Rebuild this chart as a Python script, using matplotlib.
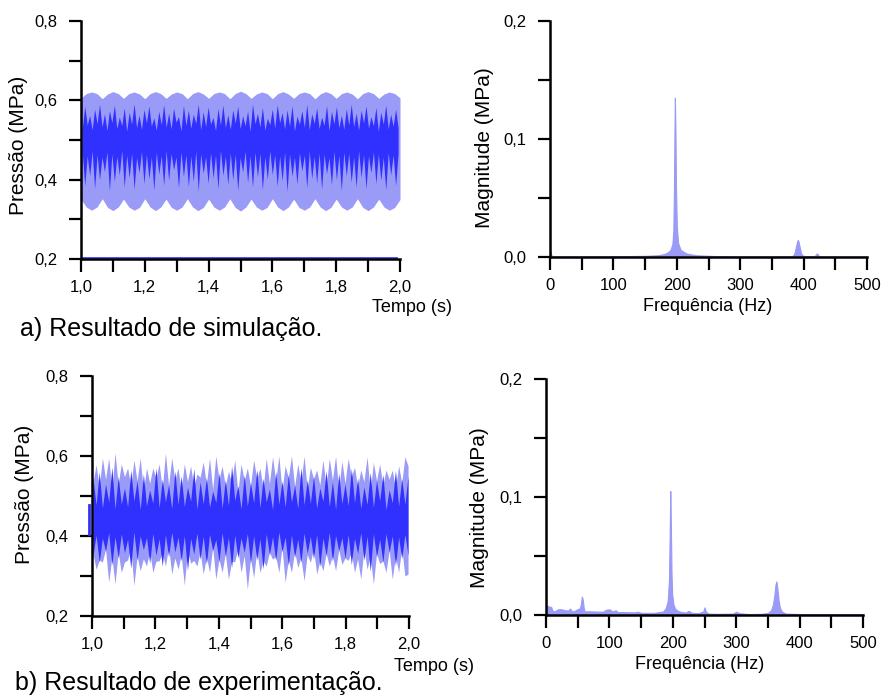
import numpy as np
import matplotlib.pyplot as plt

plt.rcParams['font.family'] = ['Liberation Sans', 'DejaVu Sans']

LIGHT = '#9a9af7'
DARK = '#3131ff'

# ---- axis ticks / labels ----
t_ticks = [1.0, 1.2, 1.4, 1.6, 1.8, 2.0]
t_ticklabels = ['1,0', '1,2', '1,4', '1,6', '1,8', '2,0']
t_minor = [1.1, 1.3, 1.5, 1.7, 1.9]
p_ticks = [0.2, 0.4, 0.6, 0.8]
p_ticklabels = ['0,2', '0,4', '0,6', '0,8']
p_minor = [0.3, 0.5, 0.7]
f_ticks = [0, 100, 200, 300, 400, 500]
f_ticklabels = ['0', '100', '200', '300', '400', '500']
f_minor = [50, 150, 250, 350, 450]
m_ticks = [0.0, 0.1, 0.2]
m_ticklabels = ['0,0', '0,1', '0,2']
m_minor = [0.05, 0.15]

# ---- a) simulation, pressure envelope (outer, light) ----
sim_env_hi = [0.606, 0.617, 0.621, 0.617, 0.604, 0.616, 0.622, 0.617, 0.605, 0.617, 0.621, 0.616,
              0.604, 0.617, 0.622, 0.617, 0.605, 0.616, 0.621, 0.617, 0.604, 0.617, 0.622, 0.616,
              0.605, 0.617, 0.621, 0.617, 0.604, 0.617, 0.623, 0.617, 0.605, 0.616, 0.621, 0.617,
              0.604, 0.617, 0.622, 0.616, 0.605, 0.617, 0.621, 0.617, 0.604, 0.616, 0.622, 0.617,
              0.605, 0.617, 0.621, 0.616, 0.604, 0.617, 0.622, 0.617, 0.605, 0.616, 0.621, 0.617, 0.606]
sim_env_lo = [0.350, 0.331, 0.323, 0.331, 0.352, 0.330, 0.322, 0.331, 0.351, 0.331, 0.323, 0.330,
              0.352, 0.331, 0.322, 0.331, 0.351, 0.330, 0.323, 0.331, 0.352, 0.331, 0.322, 0.330,
              0.351, 0.331, 0.323, 0.331, 0.352, 0.330, 0.321, 0.331, 0.351, 0.331, 0.323, 0.330,
              0.352, 0.331, 0.322, 0.331, 0.351, 0.330, 0.323, 0.331, 0.352, 0.331, 0.322, 0.330,
              0.351, 0.331, 0.323, 0.331, 0.352, 0.330, 0.322, 0.331, 0.351, 0.331, 0.323, 0.330, 0.350]
# inner core (dark): spike tips and the gaps between them
sim_top_peaks = [0.585, 0.562, 0.578, 0.590, 0.566, 0.574, 0.588, 0.558, 0.581, 0.570, 0.591, 0.563,
                 0.577, 0.586, 0.556, 0.572, 0.589, 0.568, 0.580, 0.559, 0.587, 0.575, 0.565, 0.590,
                 0.571, 0.583, 0.557, 0.579, 0.588, 0.564, 0.576, 0.585, 0.561, 0.573, 0.591, 0.567,
                 0.582, 0.555, 0.578, 0.589, 0.569, 0.576, 0.586, 0.560, 0.574, 0.590, 0.566, 0.581,
                 0.558, 0.587, 0.572, 0.584, 0.563, 0.579, 0.590, 0.568, 0.575, 0.586, 0.559, 0.582,
                 0.570, 0.588, 0.565, 0.578]
sim_top_gaps = [0.530, 0.538, 0.526, 0.541, 0.533, 0.524, 0.544, 0.529, 0.536, 0.522, 0.540, 0.531,
                0.527, 0.543, 0.535, 0.525, 0.539, 0.532, 0.528, 0.545, 0.523, 0.537, 0.530, 0.542,
                0.526, 0.534, 0.540, 0.524, 0.538, 0.531, 0.527, 0.543, 0.529, 0.536, 0.522, 0.541,
                0.533, 0.525, 0.539, 0.530, 0.544, 0.528, 0.535, 0.523, 0.540, 0.532, 0.526, 0.542,
                0.529, 0.537, 0.524, 0.541, 0.531, 0.527, 0.538, 0.534, 0.525, 0.543, 0.530, 0.536,
                0.522, 0.540, 0.528, 0.535, 0.531]
sim_bot_troughs = [0.385, 0.410, 0.378, 0.400, 0.420, 0.372, 0.395, 0.412, 0.381, 0.405, 0.376, 0.418,
                   0.390, 0.402, 0.374, 0.414, 0.386, 0.398, 0.425, 0.379, 0.408, 0.383, 0.396, 0.372,
                   0.416, 0.391, 0.404, 0.377, 0.411, 0.388, 0.399, 0.373, 0.419, 0.393, 0.382, 0.407,
                   0.375, 0.401, 0.413, 0.384, 0.397, 0.371, 0.409, 0.389, 0.422, 0.380, 0.403, 0.392,
                   0.376, 0.415, 0.387, 0.400, 0.373, 0.410, 0.394, 0.381, 0.406, 0.378, 0.417, 0.390,
                   0.398, 0.374, 0.412, 0.385]
sim_bot_gaps = [0.468, 0.460, 0.472, 0.463, 0.457, 0.470, 0.465, 0.459, 0.474, 0.462, 0.467, 0.456,
                0.471, 0.464, 0.458, 0.469, 0.461, 0.473, 0.466, 0.457, 0.470, 0.463, 0.460, 0.472,
                0.465, 0.458, 0.468, 0.462, 0.474, 0.459, 0.467, 0.464, 0.456, 0.471, 0.461, 0.469,
                0.466, 0.458, 0.473, 0.463, 0.460, 0.470, 0.465, 0.457, 0.468, 0.462, 0.472, 0.459,
                0.467, 0.464, 0.456, 0.471, 0.461, 0.469, 0.466, 0.458, 0.473, 0.463, 0.460, 0.470,
                0.465, 0.457, 0.468, 0.462, 0.466]
sim_floor = [0.2035, 0.2035]

# ---- a) simulation, spectrum ----
sim_freq = [0, 1, 2, 3, 5, 50, 100, 150, 170, 180, 186, 190, 193, 194.5, 195.5, 196.3, 197, 197.8,
            198.7, 200, 202, 206, 215, 230, 260, 300, 350, 380, 384, 386, 388, 390, 391, 392, 394,
            396, 399, 405, 415, 418, 420, 421, 422, 424, 427, 450, 500]
sim_mag = [0.004, 0.004, 0.002, 0.0008, 0.0005, 0.0005, 0.0006, 0.001, 0.0015, 0.0025, 0.004, 0.006,
           0.011, 0.022, 0.055, 0.105, 0.135, 0.108, 0.06, 0.026, 0.012, 0.006, 0.003, 0.0015,
           0.0008, 0.0005, 0.0005, 0.0006, 0.0015, 0.004, 0.009, 0.0135, 0.0145, 0.013, 0.008,
           0.003, 0.001, 0.0006, 0.0006, 0.001, 0.0025, 0.003, 0.0025, 0.001, 0.0005, 0.0004, 0.0004]

# ---- b) experiment, pressure ----
exp_light_peaks = [0.578, 0.595, 0.595, 0.608, 0.580, 0.570, 0.590, 0.595, 0.570, 0.570, 0.580, 0.607,
                   0.595, 0.570, 0.580, 0.575, 0.555, 0.585, 0.595, 0.600, 0.575, 0.562, 0.590, 0.580,
                   0.570, 0.590, 0.570, 0.594, 0.598, 0.600, 0.576, 0.600, 0.580, 0.600, 0.572, 0.565,
                   0.590, 0.594, 0.600, 0.587, 0.594, 0.572, 0.565, 0.598, 0.584, 0.580, 0.565, 0.565,
                   0.576, 0.598]
exp_light_gaps = [0.535, 0.520, 0.542, 0.515, 0.530, 0.548, 0.523, 0.538, 0.512, 0.532, 0.545, 0.518,
                  0.527, 0.540, 0.514, 0.536, 0.522, 0.547, 0.529, 0.516, 0.541, 0.525, 0.533, 0.511,
                  0.539, 0.526, 0.544, 0.519, 0.531, 0.537, 0.513, 0.546, 0.524, 0.534, 0.517, 0.543,
                  0.528, 0.521, 0.540, 0.515, 0.532, 0.547, 0.523, 0.536, 0.510, 0.538, 0.527, 0.542,
                  0.518, 0.533, 0.575]
exp_light_troughs = [0.317, 0.335, 0.284, 0.280, 0.309, 0.340, 0.276, 0.313, 0.325, 0.309, 0.338, 0.325,
                     0.305, 0.317, 0.277, 0.332, 0.325, 0.305, 0.309, 0.292, 0.309, 0.292, 0.336, 0.309,
                     0.267, 0.296, 0.309, 0.325, 0.342, 0.309, 0.284, 0.309, 0.321, 0.288, 0.334, 0.305,
                     0.313, 0.325, 0.313, 0.329, 0.339, 0.309, 0.292, 0.317, 0.280, 0.331, 0.309, 0.292,
                     0.309, 0.300]
exp_light_ups = [0.355, 0.340, 0.367, 0.347, 0.360, 0.335, 0.370, 0.350, 0.343, 0.363, 0.337, 0.358,
                 0.373, 0.345, 0.353, 0.365, 0.339, 0.361, 0.348, 0.371, 0.342, 0.356, 0.336, 0.368,
                 0.351, 0.344, 0.364, 0.338, 0.359, 0.349, 0.372, 0.341, 0.362, 0.346, 0.354, 0.369,
                 0.337, 0.357, 0.352, 0.366, 0.345, 0.360, 0.343, 0.367, 0.349, 0.356, 0.338, 0.364,
                 0.351, 0.370, 0.305]
exp_dark_peaks = [0.545, 0.560, 0.530, 0.572, 0.548, 0.520, 0.565, 0.538, 0.555, 0.515, 0.570, 0.542,
                  0.528, 0.562, 0.550, 0.522, 0.568, 0.535, 0.546, 0.512, 0.558, 0.540, 0.575, 0.525,
                  0.552, 0.533, 0.566, 0.544, 0.518, 0.561, 0.537, 0.553, 0.527, 0.571, 0.541, 0.549,
                  0.520, 0.563, 0.536, 0.557, 0.530, 0.569, 0.545, 0.523, 0.559, 0.539, 0.554, 0.516,
                  0.564, 0.543, 0.550]
exp_dark_gaps = [0.478, 0.470, 0.485, 0.468, 0.480, 0.473, 0.488, 0.466, 0.476, 0.482, 0.471, 0.486,
                 0.469, 0.479, 0.474, 0.487, 0.467, 0.481, 0.472, 0.484, 0.470, 0.477, 0.489, 0.468,
                 0.475, 0.483, 0.471, 0.486, 0.466, 0.480, 0.473, 0.485, 0.469, 0.478, 0.482, 0.470,
                 0.487, 0.474, 0.467, 0.481, 0.476, 0.484, 0.469, 0.479, 0.472, 0.488, 0.466, 0.483,
                 0.475, 0.480]
exp_dark_troughs = [0.350, 0.335, 0.362, 0.328, 0.345, 0.358, 0.320, 0.340, 0.366, 0.332, 0.352, 0.325,
                    0.348, 0.360, 0.338, 0.315, 0.355, 0.342, 0.330, 0.364, 0.336, 0.350, 0.322, 0.346,
                    0.359, 0.333, 0.341, 0.318, 0.354, 0.339, 0.361, 0.327, 0.347, 0.334, 0.357, 0.343,
                    0.324, 0.351, 0.337, 0.363, 0.345, 0.329, 0.356, 0.340, 0.312, 0.349, 0.335, 0.360,
                    0.326, 0.344, 0.352]
exp_dark_ups = [0.402, 0.395, 0.408, 0.398, 0.405, 0.392, 0.410, 0.400, 0.396, 0.406, 0.393, 0.403,
                0.409, 0.397, 0.401, 0.394, 0.407, 0.399, 0.404, 0.391, 0.408, 0.396, 0.402, 0.395,
                0.406, 0.400, 0.393, 0.405, 0.398, 0.410, 0.397, 0.403, 0.392, 0.407, 0.399, 0.404,
                0.395, 0.409, 0.401, 0.396, 0.403, 0.394, 0.408, 0.399, 0.405, 0.392, 0.406, 0.400,
                0.397, 0.404]
exp_start = [0.405, 0.478]

# ---- b) experiment, spectrum ----
exp_freq = [0, 2, 5, 8, 10, 13, 16, 20, 25, 30, 35, 38, 41, 45, 50, 53, 55, 56.5, 58, 59.5, 61, 65,
            75, 90, 95, 100, 105, 110, 113, 120, 140, 145, 150, 170, 185, 189, 192, 194, 195, 196,
            197, 198, 199, 201, 204, 210, 220, 225, 230, 240, 248, 250, 252, 256, 270, 295, 300, 305,
            320, 340, 350, 355, 358, 360, 362, 363.5, 365, 367, 369, 372, 378, 400, 450, 500]
exp_mag = [0.007, 0.008, 0.007, 0.007, 0.004, 0.003, 0.004, 0.005, 0.0048, 0.004, 0.0038, 0.0055,
           0.003, 0.0035, 0.005, 0.0055, 0.009, 0.0155, 0.013, 0.006, 0.003, 0.0032, 0.003, 0.0028,
           0.0045, 0.0048, 0.003, 0.004, 0.0025, 0.0025, 0.0022, 0.0028, 0.0018, 0.0018, 0.003,
           0.006, 0.012, 0.03, 0.065, 0.105, 0.075, 0.035, 0.018, 0.009, 0.005, 0.003, 0.002, 0.0035,
           0.0018, 0.0015, 0.003, 0.0065, 0.003, 0.0012, 0.001, 0.0012, 0.0028, 0.0015, 0.0008,
           0.001, 0.0018, 0.004, 0.009, 0.016, 0.026, 0.0285, 0.022, 0.012, 0.006, 0.003, 0.0012,
           0.0008, 0.0008, 0.0008]


def zigzag(a, b):
    out = []
    for u, v in zip(a, b):
        out += [u, v]
    if len(a) > len(b):
        out.append(a[-1])
    return np.array(out)


W, H = 885, 697


def box(x0, x1, y_top, y_bot):
    return [x0 / W, 1 - y_bot / H, (x1 - x0) / W, (y_bot - y_top) / H]


def style(ax, xt, xl, xm, yt, yl, ym):
    ax.set_xlim(xt[0], xt[-1])
    ax.set_ylim(yt[0], yt[-1])
    ax.set_xticks(xt)
    ax.set_xticklabels(xl)
    ax.set_xticks(xm, minor=True)
    ax.set_yticks(yt)
    ax.set_yticklabels(yl)
    ax.set_yticks(ym, minor=True)
    for s in ['top', 'right']:
        ax.spines[s].set_visible(False)
    for s in ['left', 'bottom']:
        ax.spines[s].set_linewidth(1.8)
        ax.spines[s].set_zorder(5)
    ax.tick_params(which='both', direction='out', length=9, width=1.6, labelsize=12)
    ax.tick_params(axis='x', pad=6)
    ax.tick_params(axis='y', pad=8)


def ftext(x, y, s, **kw):
    fig.text(x / W, 1 - y / H, s, **kw)


fig = plt.figure(figsize=(8.85, 6.97), dpi=100)

# a) time signal
ax1 = fig.add_axes(box(81, 400, 21, 259))
t = np.linspace(1.0, 2.0, len(sim_env_hi))
ax1.fill_between(t, sim_env_lo, sim_env_hi, color=LIGHT, lw=0)
core_hi = zigzag(sim_top_gaps, sim_top_peaks)
core_lo = zigzag(sim_bot_gaps, sim_bot_troughs)
tc = np.linspace(1.004, 1.994, len(core_hi))
ax1.fill_between(tc, core_lo, core_hi, color=DARK, lw=0)
ax1.plot([t_ticks[0], 1.99], sim_floor, color=DARK, lw=1.2)
style(ax1, t_ticks, t_ticklabels, t_minor, p_ticks, p_ticklabels, p_minor)

# a) spectrum
ax2 = fig.add_axes(box(550, 867, 21, 257))
ax2.fill_between(sim_freq, 0, sim_mag, color=LIGHT, lw=0.8, edgecolor=LIGHT)
style(ax2, f_ticks, f_ticklabels, f_minor, m_ticks, m_ticklabels, m_minor)

# b) time signal
ax3 = fig.add_axes(box(92, 409, 376, 616))
light_hi = zigzag(exp_light_gaps, exp_light_peaks)
light_lo = zigzag(exp_light_ups, exp_light_troughs)
te = np.linspace(1.003, 1.997, len(light_hi))
ax3.fill_between(te, light_lo, light_hi, color=LIGHT, lw=0)
dark_hi = zigzag(exp_dark_peaks, exp_dark_gaps)
dark_lo = zigzag(exp_dark_troughs, exp_dark_ups)
ax3.fill_between(te, dark_lo, dark_hi, color=DARK, lw=0)
ax3.plot([0.992, 0.992], exp_start, color=DARK, lw=2, clip_on=False)
style(ax3, t_ticks, t_ticklabels, t_minor, p_ticks, p_ticklabels, p_minor)

# b) spectrum
ax4 = fig.add_axes(box(546, 863, 379, 615))
ax4.fill_between(exp_freq, 0, exp_mag, color=LIGHT, lw=0.8, edgecolor=LIGHT)
style(ax4, f_ticks, f_ticklabels, f_minor, m_ticks, m_ticklabels, m_minor)

# labels
ftext(18.5, 145, 'Pressão (MPa)', rotation=90, ha='center', va='center', fontsize=15)
ftext(24, 494, 'Pressão (MPa)', rotation=90, ha='center', va='center', fontsize=15)
ftext(484, 148, 'Magnitude (MPa)', rotation=90, ha='center', va='center', fontsize=15)
ftext(479, 508, 'Magnitude (MPa)', rotation=90, ha='center', va='center', fontsize=15)
ftext(452, 312, 'Tempo (s)', ha='right', va='baseline', fontsize=13)
ftext(474, 671, 'Tempo (s)', ha='right', va='baseline', fontsize=13)
ftext(708, 311, 'Frequência (Hz)', ha='center', va='baseline', fontsize=13)
ftext(700, 669, 'Frequência (Hz)', ha='center', va='baseline', fontsize=13)
ftext(20, 336, 'a) Resultado de simulação.', ha='left', va='baseline', fontsize=18)
ftext(15, 690, 'b) Resultado de experimentação.', ha='left', va='baseline', fontsize=18)

fig.savefig('out.png', dpi=100)
